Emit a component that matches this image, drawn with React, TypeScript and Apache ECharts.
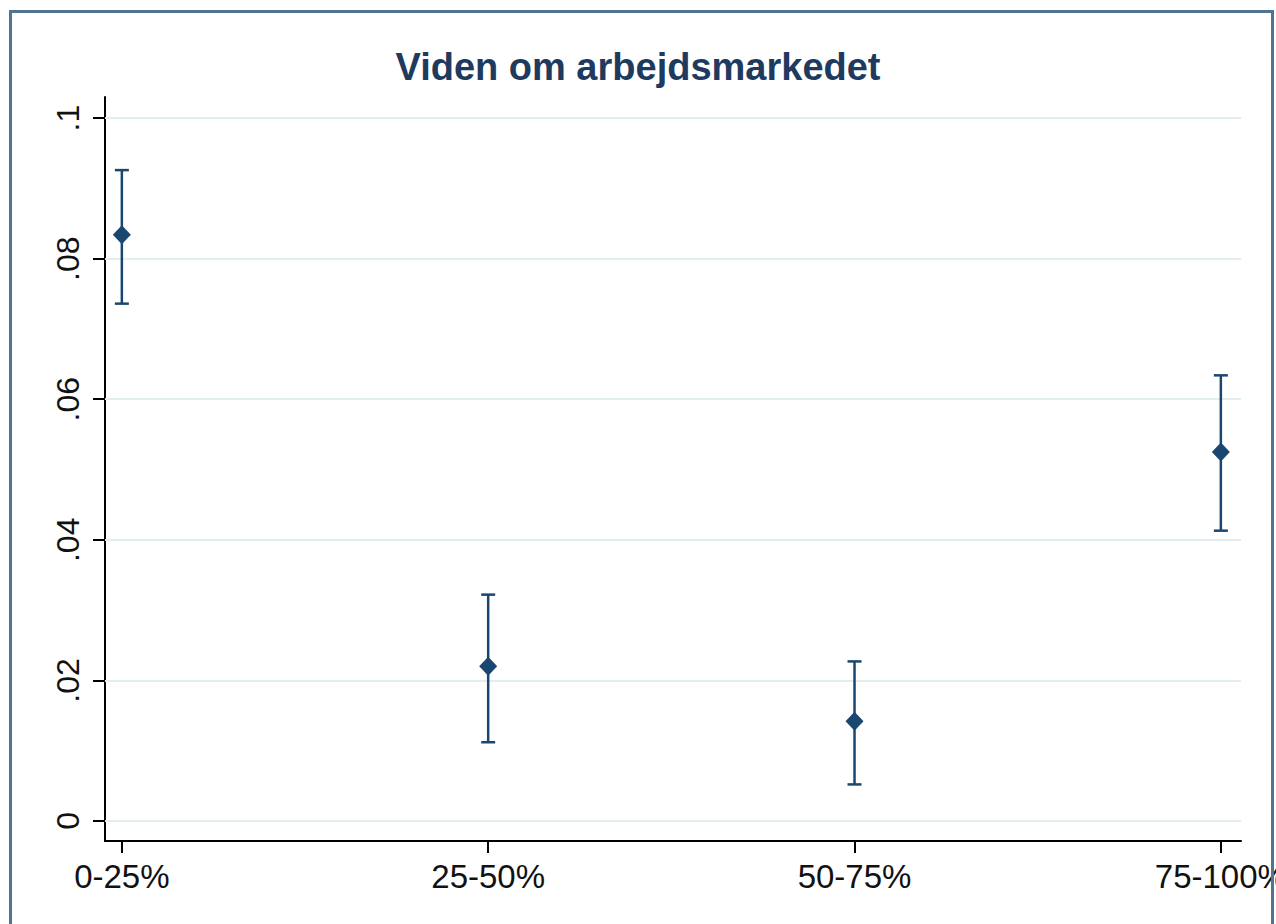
import React, { useEffect, useRef } from "react";
import * as echarts from "echarts";

const categories = ["0-25%", "25-50%", "50-75%", "75-100%"];
const pointEstimates = [0.0834, 0.022, 0.0142, 0.0525];
const lowerBounds = [0.0736, 0.0112, 0.0052, 0.0413];
const upperBounds = [0.0926, 0.0322, 0.0227, 0.0634];
const yTickValues = [0, 0.02, 0.04, 0.06, 0.08, 0.1];
const yTickLabels = ["0", ".02", ".04", ".06", ".08", ".1"];
const xTickValues = [0, 1, 2, 3];
const titleText = "Viden om arbejdsmarkedet";

const NAVY = "#1a476f";
const FONT = "'Liberation Sans', Arial, Helvetica, sans-serif";

export default function App() {
  const ref = useRef<HTMLDivElement>(null);

  useEffect(() => {
    if (!ref.current) return;
    const chart = echarts.init(ref.current, undefined, { renderer: "svg" });

    const option: any = {
      animation: false,
      backgroundColor: "#ffffff",
      title: {
        text: titleText,
        left: "center",
        top: 43,
        textStyle: {
          fontFamily: FONT,
          fontSize: 38,
          fontWeight: "bold",
          color: "#1e3a5f",
        },
      },
      grid: {
        left: 105,
        right: 35,
        top: 97,
        bottom: 83,
        containLabel: false,
        outerBoundsMode: "none",
      },
      xAxis: {
        type: "value",
        min: -0.046,
        max: 3.055,
        axisLine: { show: true, onZero: false, lineStyle: { color: "#000", width: 2 } },
        axisTick: {
          show: true,
          customValues: xTickValues,
          length: 12,
          lineStyle: { color: "#000", width: 2 },
        },
        axisLabel: {
          customValues: xTickValues,
          formatter: (v: number) => categories[Math.round(v)] ?? "",
          fontFamily: FONT,
          fontSize: 33,
          color: "#111",
          margin: 19,
          hideOverlap: false,
        },
        splitLine: { show: false },
      },
      yAxis: {
        type: "value",
        min: -0.00285,
        max: 0.103,
        axisLine: { show: true, onZero: false, lineStyle: { color: "#000", width: 2 } },
        axisTick: {
          show: true,
          customValues: yTickValues,
          length: 12,
          lineStyle: { color: "#000", width: 2 },
        },
        axisLabel: {
          customValues: yTickValues,
          rotate: 90,
          formatter: (v: number) => {
            const i = yTickValues.findIndex((t) => Math.abs(t - v) < 1e-9);
            return i >= 0 ? yTickLabels[i] : "";
          },
          fontFamily: FONT,
          fontSize: 32,
          color: "#111",
          margin: 21,
        },
        splitLine: { show: false },
      },
      series: [
        {
          type: "custom",
          z: 3,
          silent: true,
          data: categories.map((_, i) => [xTickValues[i], lowerBounds[i], upperBounds[i]]),
          renderItem: (params: any, api: any) => {
            const x = api.value(0);
            const lo = api.coord([x, api.value(1)]);
            const hi = api.coord([x, api.value(2)]);
            const hw = 7;
            const style = { stroke: NAVY, lineWidth: 2.5, fill: "none" };
            return {
              type: "group",
              children: [
                { type: "line", shape: { x1: lo[0], y1: lo[1], x2: hi[0], y2: hi[1] }, style },
                { type: "line", shape: { x1: hi[0] - hw, y1: hi[1], x2: hi[0] + hw, y2: hi[1] }, style },
                { type: "line", shape: { x1: lo[0] - hw, y1: lo[1], x2: lo[0] + hw, y2: lo[1] }, style },
              ],
            };
          },
          markLine: {
            silent: true,
            symbol: "none",
            label: { show: false },
            lineStyle: { color: "#e2eef0", width: 2, type: "solid" },
            data: yTickValues.map((v) => ({ yAxis: v })),
            z: 1,
          },
        },
        {
          type: "scatter",
          z: 5,
          symbol: "diamond",
          symbolSize: [18, 19],
          itemStyle: { color: NAVY, opacity: 1 },
          data: categories.map((_, i) => [xTickValues[i], pointEstimates[i]]),
        },
      ],
      graphic: [
        {
          type: "rect",
          z: 100,
          silent: true,
          shape: { x: 10.5, y: 11.5, width: 1262, height: 940 },
          style: { fill: "none", stroke: "#4f7592", lineWidth: 3 },
        },
      ],
    };

    chart.setOption(option);
    return () => chart.dispose();
  }, []);

  return (
    <div
      ref={ref}
      style={{ position: "absolute", left: 0, top: 0, width: 1276, height: 924, background: "#fff" }}
    />
  );
}
